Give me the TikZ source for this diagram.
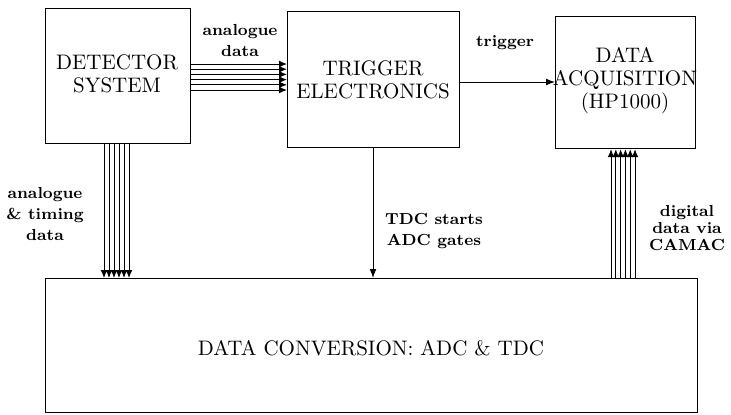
\documentclass[tikz,border=0pt]{standalone}
\usetikzlibrary{arrows.meta}
\begin{document}
\begin{tikzpicture}[x=0.5pt,y=-0.5pt,
  box/.style={draw,line width=0.6pt,inner sep=0pt,anchor=north west},
  boxtext/.style={align=center,inner sep=0pt,font=\fontsize{10.5}{11.5}\selectfont},
  lab/.style={align=center,inner sep=0pt,font=\fontsize{8}{10.5}\selectfont\bfseries},
  bus/.style={line width=0.5pt,-{Latex[length=4pt,width=3.4pt]}},
  sig/.style={line width=0.5pt,-{Latex[length=4.5pt,width=3.4pt]}}]
\useasboundingbox (0,0) rectangle (731,414);
% boxes
\node[box,minimum width=72.5pt,minimum height=67.5pt] (det) at (45,8) {};
\node[box,minimum width=86pt,minimum height=68pt] (trig) at (287,11) {};
\node[box,minimum width=70pt,minimum height=66pt] (daq) at (555,16) {};
\node[box,minimum width=326pt,minimum height=67pt] (conv) at (45,278) {};
% box texts
\node[boxtext] (dett) at (117,74) {DETECTOR\\SYSTEM};
\node[boxtext] (trigt) at (373,80) {TRIGGER\\ELECTRONICS};
\node[boxtext] (daqt) at (625,81) {DATA\\ACQUISITION\\(HP1000)};
\node[boxtext] (convt) at (371,348) {DATA CONVERSION: ADC \& TDC};
% buses
\foreach \i in {0,...,5}{
  \draw[bus] (det.east |- 0,{64+5.2*\i}) -- (trig.west |- 0,{64+5.2*\i});
  \draw[bus] (det.south -| {104+5*\i},0) -- (conv.north -| {104+5*\i},0);
  \draw[bus] (conv.north -| {611+4.8*\i},0) -- (daq.south -| {611+4.8*\i},0);
}
% single signals
\draw[sig] (trig.east |- 0,82) -- (daq.west |- 0,82);
\draw[sig] (trig.south -| 373,0) -- (conv.north -| 373,0);
% labels
\node[lab] (l1) at (240,40) {analogue\\data};
\node[lab] (l2) at (505,43) {trigger};
\node[lab] (l3) at (45,214) {analogue\\\&~timing\\data};
\node[lab] (l4) at (434,231) {TDC starts\\ADC gates};
\node[lab,font=\fontsize{8}{8.5}\selectfont\bfseries] (l5) at (687,228) {digital\\data via\\CAMAC};
\end{tikzpicture}
\end{document}
